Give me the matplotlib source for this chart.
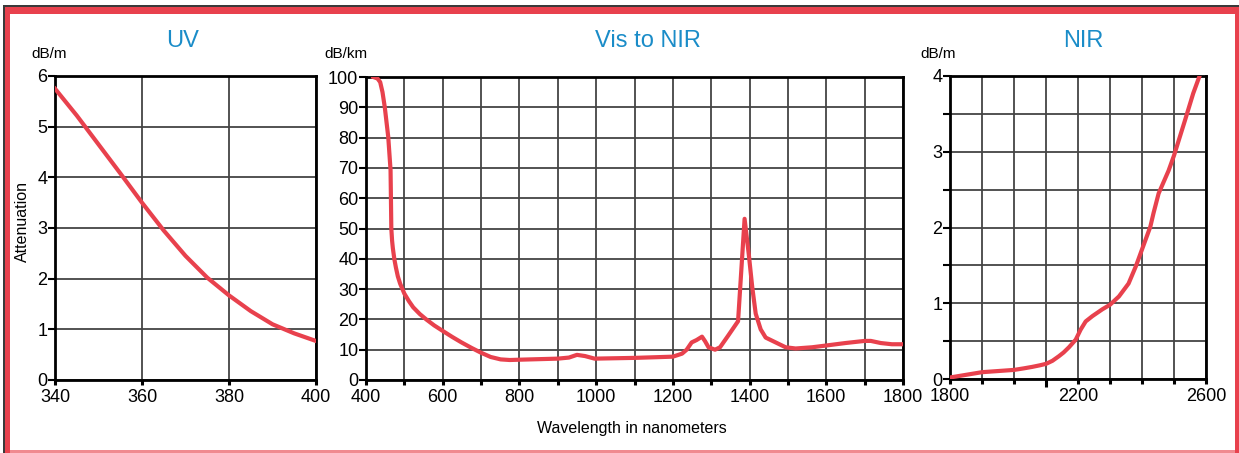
"""
Fibre attenuation chart: UV / Vis to NIR / NIR panels
"""
import matplotlib
matplotlib.use('Agg')
import matplotlib.pyplot as plt
from matplotlib.patches import Rectangle
import numpy as np

plt.rcParams['font.family'] = ['Liberation Sans', 'DejaVu Sans']

# ============================================================
# DATA
# ============================================================
uv_nm = [340, 345, 350, 355, 360, 365, 370, 375, 380, 385, 390, 395, 400]
uv_att = [5.75, 5.22, 4.65, 4.08, 3.5, 2.95, 2.45, 2.02, 1.67, 1.36, 1.1, 0.92, 0.77]

vis_nm = [419, 430, 437, 443, 449, 458, 464, 465, 466, 468, 470, 474, 478, 483, 489,
          500, 512, 523, 540, 557, 578, 600, 625, 649, 675, 700, 725, 751, 775, 800,
          900, 929, 950, 971, 996, 1100, 1200, 1224, 1236, 1249, 1262, 1276, 1284,
          1293, 1310, 1323, 1344, 1370, 1387, 1398, 1407, 1416, 1429, 1442, 1468,
          1494, 1520, 1563, 1607, 1650, 1700, 1716, 1742, 1771, 1800]
vis_att = [100, 99.5, 98.3, 95, 90, 80.2, 69.3, 60, 50, 46, 43.5, 39.8, 37.1, 34.2, 31.8,
           28.5, 26, 24, 21.8, 20, 18, 16.2, 14.2, 12.4, 10.6, 9.0, 7.6, 6.8, 6.6, 6.7,
           7.05, 7.4, 8.3, 7.9, 7.05, 7.3, 7.7, 8.7, 10, 12.4, 13.2, 14.3, 12.8,
           10.8, 10, 10.8, 14.6, 19.4, 53.2, 41.4, 30.6, 21.9, 16.7, 14, 12.4,
           10.8, 10.4, 10.8, 11.5, 12.2, 12.9, 12.9, 12.2, 11.8, 11.8]

nir_nm = [1800, 1850, 1900, 1950, 2000, 2030, 2057, 2080, 2100, 2120, 2140, 2155, 2172,
          2193, 2208, 2224, 2245, 2276, 2300, 2328, 2358, 2381, 2400, 2426, 2436, 2452,
          2483, 2500, 2534, 2560, 2579]
nir_att = [0.02, 0.055, 0.09, 0.105, 0.12, 0.14, 0.16, 0.18, 0.2, 0.24, 0.30, 0.35, 0.42,
           0.52, 0.65, 0.76, 0.83, 0.92, 0.98, 1.09, 1.26, 1.49, 1.71, 2.01, 2.19, 2.45,
           2.75, 2.95, 3.41, 3.77, 3.99]

uv_xticks = [340, 360, 380, 400]
uv_yticks = [0, 1, 2, 3, 4, 5, 6]
vis_xticks = list(range(400, 1801, 100))
vis_xlabels = ['400', '', '600', '', '800', '', '1000', '', '1200', '', '1400', '', '1600', '', '1800']
vis_yticks = list(range(0, 101, 10))
nir_xticks = list(range(1800, 2601, 100))
nir_xlabels = ['1800', '', '', '', '2200', '', '', '', '2600']
nir_yticks = [0, 0.5, 1, 1.5, 2, 2.5, 3, 3.5, 4]
nir_ylabels = ['0', '', '1', '', '2', '', '3', '', '4']

titles = ['UV', 'Vis to NIR', 'NIR']
units = ['dB/m', 'dB/km', 'dB/m']

RED = '#e8414d'
BLUE = '#1a8cc8'
GRID = '#444444'

W, H = 1239, 453
fig = plt.figure(figsize=(W / 100, H / 100), dpi=100)

# ============================================================
# FRAME (pixel coordinates)
# ============================================================
bg = fig.add_axes([0, 0, 1, 1])
bg.set_xlim(0, W)
bg.set_ylim(H, 0)
bg.axis('off')
bg.add_patch(Rectangle((3, 5), 2, H - 5, color='#3a3a3a', lw=0))
bg.add_patch(Rectangle((3, 5), W - 3, 2, color='#3a3a3a', lw=0))
bg.add_patch(Rectangle((5, 7), 5, H - 7, color=RED, lw=0))
bg.add_patch(Rectangle((5, 7), W - 5, 7, color=RED, lw=0))
bg.add_patch(Rectangle((1235, 7), 4, H - 7, color=RED, lw=0))
bg.add_patch(Rectangle((10, 450), 1225, 3, color='#f08a90', lw=0))


def px_axes(left, right, top, bottom):
    return fig.add_axes([left / W, (H - bottom) / H, (right - left) / W, (bottom - top) / H])


def style(ax):
    for s in ax.spines.values():
        s.set_linewidth(2.0)
        s.set_color('black')
    ax.grid(True, color=GRID, linewidth=1.3)
    ax.set_axisbelow(True)
    ax.tick_params(axis='x', direction='out', length=3.6, width=2.2, pad=3,
                   labelsize=13, colors='black')
    ax.tick_params(axis='y', direction='out', length=5, width=1.5, pad=0.5,
                   labelsize=13, colors='black')


# ============================================================
# PANELS
# ============================================================
ax1 = px_axes(55, 316, 76, 380)
ax1.plot(uv_nm, uv_att, color=RED, lw=3, solid_joinstyle='round', zorder=3)
ax1.set_xlim(340, 400)
ax1.set_ylim(0, 6)
ax1.set_xticks(uv_xticks)
ax1.set_yticks(uv_yticks)
style(ax1)

ax2 = px_axes(366, 903, 77, 380)
ax2.plot(vis_nm, vis_att, color=RED, lw=3, solid_joinstyle='round', zorder=3)
ax2.set_xlim(400, 1800)
ax2.set_ylim(0, 100)
ax2.set_xticks(vis_xticks)
ax2.set_xticklabels(vis_xlabels)
ax2.set_yticks(vis_yticks)
style(ax2)

ax3 = px_axes(950, 1206, 76, 379)
ax3.plot(nir_nm, nir_att, color=RED, lw=3, solid_joinstyle='round', zorder=3)
ax3.set_xlim(1800, 2600)
ax3.set_ylim(0, 4)
ax3.set_xticks(nir_xticks)
ax3.set_xticklabels(nir_xlabels)
ax3.set_yticks(nir_yticks)
ax3.set_yticklabels(nir_ylabels)
style(ax3)
# the 2100 tick is drawn longer in the original
ax3.xaxis.get_major_ticks()[3].tick1line.set_markersize(6)

# ============================================================
# TEXT
# ============================================================
for t, x in zip(titles, [183, 648, 1083]):
    bg.text(x, 47, t, ha='center', va='baseline', fontsize=17, color=BLUE)
for u, x in zip(units, [31, 324, 920]):
    bg.text(x, 58, u, ha='left', va='baseline', fontsize=11, color='black')
bg.text(22, 222, 'Attenuation', rotation=90, ha='center', va='center', fontsize=11.5)
bg.text(632, 433, 'Wavelength in nanometers', ha='center', va='baseline', fontsize=11.5)

plt.savefig('out.png', dpi=100)
plt.close()
